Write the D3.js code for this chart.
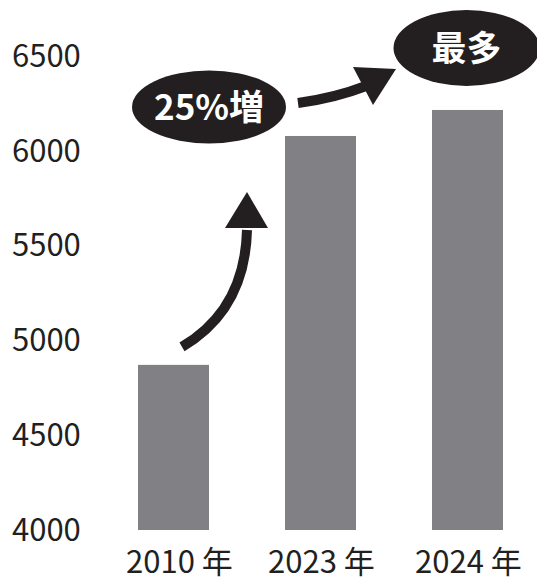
<!DOCTYPE html>
<html lang="ja">
  <head>
    <meta charset="utf-8" />
    <title>2010年・2023年・2024年</title>
    <style>
      body {
        margin: 0;
        background: #fff;
      }
      svg {
        display: block;
        font-family: "Noto Sans CJK JP", "Noto Sans", sans-serif;
      }
      .tick-label {
        fill: #231f20;
        font-size: 31px;
      }
      .badge text {
        fill: #fff;
        font-size: 35px;
        font-weight: bold;
      }
    </style>
  </head>
  <body>
    <svg width="537" height="581"></svg>

    <script src="https://d3js.org/d3.v7.min.js"></script>
    <script>
      // data
      const years = ["2010 年", "2023 年", "2024 年"];
      const values = [4870, 6076, 6213];
      const yTicks = [4000, 4500, 5000, 5500, 6000, 6500];
      const badges = ["25%増", "最多"];

      const width = 537;
      const height = 581;
      const ink = "#231f20";

      const svg = d3.select("svg");

      const x = d3
        .scaleBand()
        .domain(years)
        .range([100, 541])
        .paddingInner(0.517)
        .paddingOuter(0.2585);

      const y = d3.scaleLinear().domain([4000, 6500]).range([530, 55.5]);

      // y labels (no axis line)
      svg
        .append("g")
        .selectAll("text")
        .data(yTicks)
        .join("text")
        .attr("class", "tick-label")
        .attr("x", 12)
        .attr("y", (d) => y(d))
        .attr("dy", "0.36em")
        .text((d) => d);

      // bars
      svg
        .append("g")
        .selectAll("rect")
        .data(values)
        .join("rect")
        .attr("x", (d, i) => x(years[i]))
        .attr("width", x.bandwidth())
        .attr("y", (d) => y(d))
        .attr("height", (d) => y(4000) - y(d))
        .attr("fill", "#818185");

      // x labels
      svg
        .append("g")
        .selectAll("text")
        .data(years)
        .join("text")
        .attr("class", "tick-label")
        .attr("x", (d, i) => x(d) + x.bandwidth() / 2 + (i === 0 ? 6 : 1))
        .attr("y", 573)
        .attr("text-anchor", "middle")
        .text((d) => d);

      // annotations
      const bw = x.bandwidth();
      const x0 = x(years[0]);
      const x1 = x(years[1]);

      const ann = svg.append("g");

      // arrow from 2010 bar up to the badge
      const a1 = { sx: x0 + 44, sy: y(values[0]) - 18, ex: x0 + 109, ey: 228 };
      ann
        .append("path")
        .attr(
          "d",
          `M${a1.sx},${a1.sy} Q${a1.ex - 2},${a1.sy - 37} ${a1.ex},${a1.ey + 2}`
        )
        .attr("fill", "none")
        .attr("stroke", ink)
        .attr("stroke-width", 10);
      ann
        .append("path")
        .attr(
          "d",
          `M${a1.ex},${a1.ey - 36} L${a1.ex - 22},${a1.ey} L${a1.ex + 21},${a1.ey} Z`
        )
        .attr("fill", ink);

      // arrow from first badge towards "最多"
      const a2 = { sx: x1 + 13, sy: 103 };
      ann
        .append("path")
        .attr("d", `M${a2.sx},${a2.sy} Q${a2.sx + 37},${a2.sy - 5} ${a2.sx + 68},${a2.sy - 17}`)
        .attr("fill", "none")
        .attr("stroke", ink)
        .attr("stroke-width", 10);
      ann
        .append("path")
        .attr(
          "d",
          `M${a2.sx + 55},${a2.sy - 36} L${a2.sx + 75},${a2.sy + 2} L${a2.sx + 98},${a2.sy - 34} Z`
        )
        .attr("fill", ink);

      const badgePos = [
        { cx: x0 + 71, cy: 107, rx: 77, ry: 36.5 },
        { cx: x(years[2]) + bw / 2 - 1, cy: 48, rx: 73, ry: 38 },
      ];

      const badge = ann
        .selectAll("g.badge")
        .data(badges)
        .join("g")
        .attr("class", "badge")
        .attr(
          "transform",
          (d, i) => `translate(${badgePos[i].cx},${badgePos[i].cy})`
        );
      badge
        .append("ellipse")
        .attr("rx", (d, i) => badgePos[i].rx)
        .attr("ry", (d, i) => badgePos[i].ry)
        .attr("fill", ink);
      badge
        .append("text")
        .attr("text-anchor", "middle")
        .attr("dy", "0.36em")
        .text((d) => d);
    </script>
  </body>
</html>
